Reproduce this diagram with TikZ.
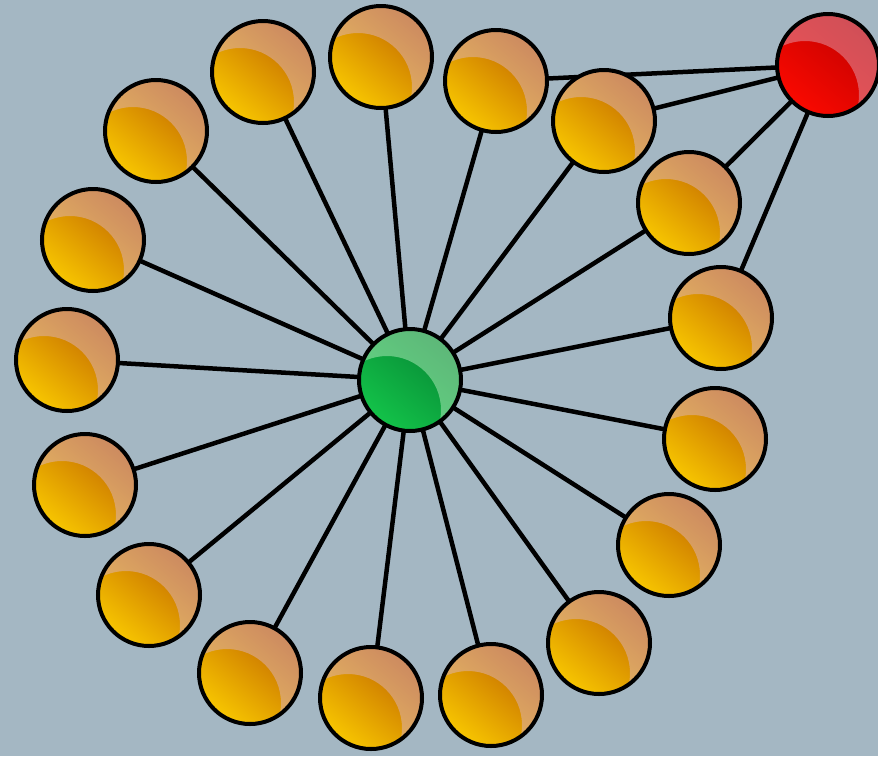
\documentclass[tikz,border=0pt]{standalone}
\definecolor{bg}{RGB}{164,183,195}
\definecolor{obright}{RGB}{252,206,0}
\definecolor{odark}{RGB}{188,92,0}
\definecolor{ohl}{RGB}{220,185,215}
\definecolor{gbright}{RGB}{20,200,75}
\definecolor{gdark}{RGB}{5,128,50}
\definecolor{ghl}{RGB}{200,245,205}
\definecolor{rbright}{RGB}{255,10,0}
\definecolor{rdark}{RGB}{188,0,0}
\definecolor{rhl}{RGB}{228,175,195}
\pgfdeclarelayer{bgfill}
\pgfdeclarelayer{links}
\pgfsetlayers{bgfill,links,main}
\tikzset{
  ball/.style n args={3}{circle, draw=black, line width=4pt, minimum size=102pt, inner sep=0pt,
    path picture={
      \shade[top color=#2, bottom color=#1, shading angle=-40]
        ([shift={(-60pt,-60pt)}]path picture bounding box.center) rectangle ([shift={(60pt,60pt)}]path picture bounding box.center);
      \fill[#3, fill opacity=0.45, even odd rule]
        (path picture bounding box.center) circle (60pt)
        ([shift={(-23pt,-30pt)}]path picture bounding box.center) circle (54pt);
    }},
  orangeball/.style={ball={obright}{odark}{ohl}},
  greenball/.style={ball={gbright}{gdark}{ghl}},
  redball/.style={ball={rbright}{rdark}{rhl}},
  link/.style={line width=4.5pt, black}
}
\begin{document}
\begin{tikzpicture}[x=1pt,y=-1pt]
\begin{pgfonlayer}{bgfill}
\fill[bg] (0,0) rectangle (878,756);
\end{pgfonlayer}
\useasboundingbox (0,0) rectangle (878,756);
\node[greenball] (c) at (410,380) {};
\node[redball] (r) at (828,65) {};
\node[orangeball] (o1) at (263,72) {};
\node[orangeball] (o2) at (381,57) {};
\node[orangeball] (o3) at (496,81) {};
\node[orangeball] (o4) at (604,121) {};
\node[orangeball] (o5) at (689,203) {};
\node[orangeball] (o6) at (721,318) {};
\node[orangeball] (o7) at (715,439) {};
\node[orangeball] (o8) at (669,545) {};
\node[orangeball] (o9) at (599,643) {};
\node[orangeball] (o10) at (491,695) {};
\node[orangeball] (o11) at (371,698) {};
\node[orangeball] (o12) at (250,673) {};
\node[orangeball] (o13) at (149,595) {};
\node[orangeball] (o14) at (85,485) {};
\node[orangeball] (o15) at (67,360) {};
\node[orangeball] (o16) at (93,240) {};
\node[orangeball] (o17) at (156,131) {};
\begin{pgfonlayer}{links}
\foreach \i in {1,...,17} {\draw[link] (c.center) -- (o\i.center);}
\foreach \i in {3,4,5,6} {\draw[link] (r.center) -- (o\i.center);}
\end{pgfonlayer}
\end{tikzpicture}
\end{document}
